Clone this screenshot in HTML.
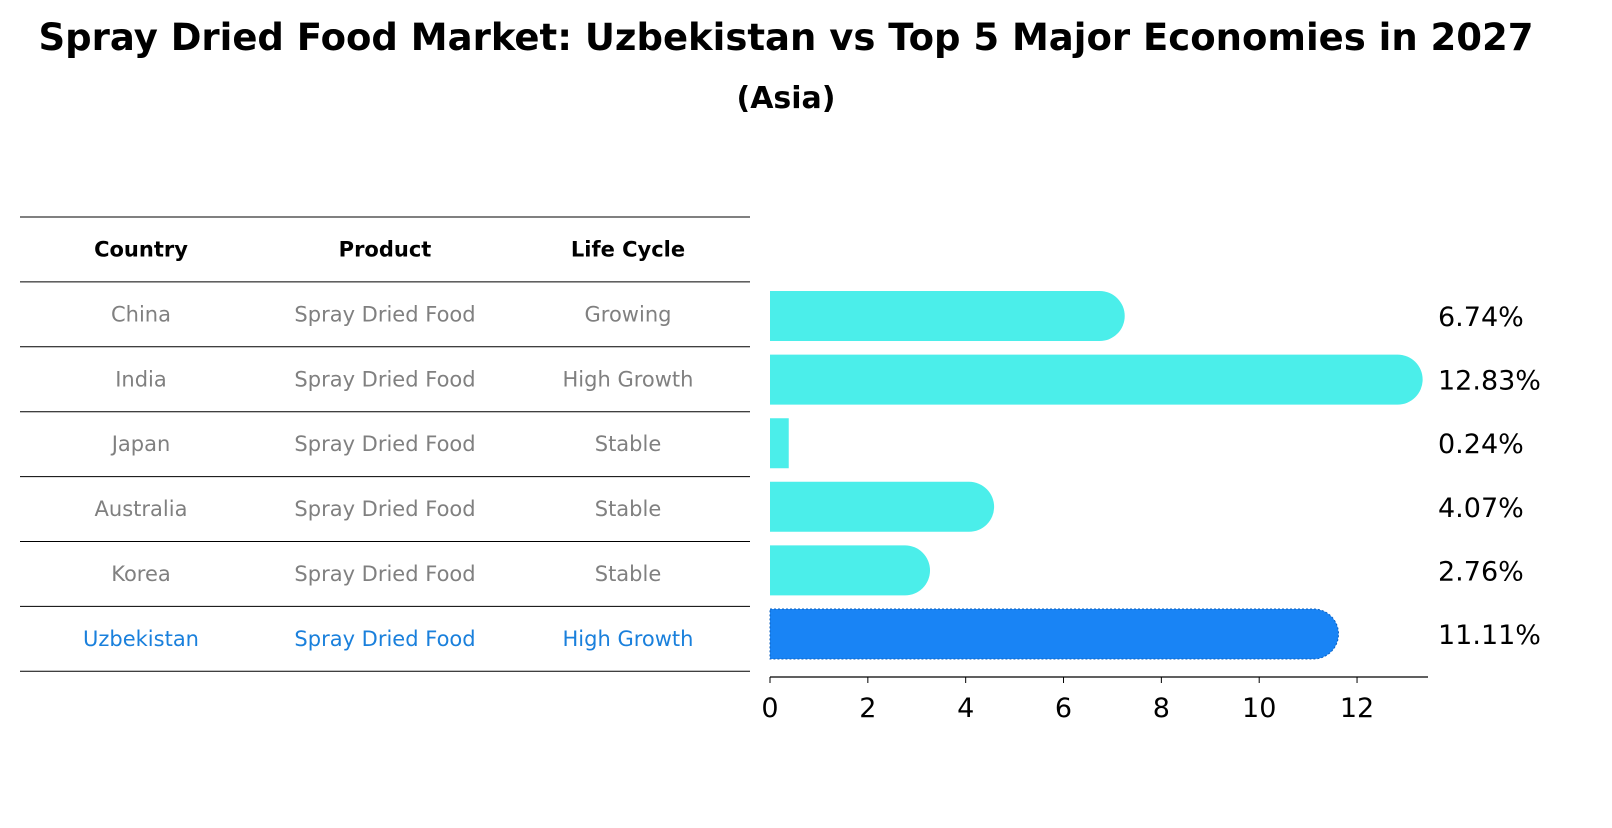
<!DOCTYPE html>
<html><head><meta charset="utf-8"><style>
body{margin:0;background:#fff;font-family:"Liberation Sans","DejaVu Sans",sans-serif}
</style></head><body>
<svg width="1612" height="823" viewBox="0 0 1612 823" xmlns="http://www.w3.org/2000/svg" font-family="DejaVu Sans, Liberation Sans, sans-serif">
<text x="786" y="50" text-anchor="middle" font-size="37" font-weight="bold">Spray Dried Food Market: Uzbekistan vs Top 5 Major Economies in 2027</text>
<text x="786" y="108" text-anchor="middle" font-size="30" font-weight="bold">(Asia)</text>
<g id="table"></g>
<g id="bars"></g>
</svg>
<script>
const countries=["China","India","Japan","Australia","Korea","Uzbekistan"];
const products=["Spray Dried Food","Spray Dried Food","Spray Dried Food","Spray Dried Food","Spray Dried Food","Spray Dried Food"];
const lifeCycles=["Growing","High Growth","Stable","Stable","Stable","High Growth"];
const values=[6.74,12.83,0.24,4.07,2.76,11.11];
const xTicks=[0,2,4,6,8,10,12];
const NS="http://www.w3.org/2000/svg";
function mk(t,a,p){const e=document.createElementNS(NS,t);for(const k in a)e.setAttribute(k,a[k]);p.appendChild(e);return e;}
const tbl=document.getElementById('table'),bars=document.getElementById('bars');
const rowTop=217,rowH=64.9,colX=[141,385,628];
function hl(y){const l=mk('line',{x1:20,x2:750,y1:y,y2:y,stroke:'#000','stroke-width':1},tbl);}
hl(rowTop);
["Country","Product","Life Cycle"].forEach((h,i)=>{const t=mk('text',{x:colX[i],y:rowTop+rowH/2+7,'text-anchor':'middle','font-size':21,'font-weight':'bold'},tbl);t.textContent=h;});
for(let r=0;r<=countries.length;r++)hl(rowTop+rowH*(r+1));
countries.forEach((c,r)=>{const y=rowTop+rowH*(r+1)+rowH/2+7;const col=r===countries.length-1?'#1a80dc':'#808080';
[c,products[r],lifeCycles[r]].forEach((s,i)=>{const t=mk('text',{x:colX[i],y:y,'text-anchor':'middle','font-size':21,fill:col},tbl);t.textContent=s;});});
const x0=770,pxu=48.92;
const X=v=>x0+v*pxu;
const bh=50,rowC=[316,379.6,443.2,506.8,570.4,634];
const axisY=677;
values.forEach((v,i)=>{const cy=rowC[i];const last=i===values.length-1;const fill=last?'#1984f5':'#4beeea';
const w=X(v)-x0;let d;
if(w>bh/2){d=`M${x0},${cy-bh/2} H${X(v)} A${bh/2},${bh/2} 0 0 1 ${X(v)},${cy+bh/2} H${x0} Z`;}else{d=`M${x0},${cy-bh/2} H${X(v)+7} V${cy+bh/2} H${x0} Z`;}
const p=mk('path',{d:d,fill:fill},bars);
if(last)mk('path',{d:d,fill:'none',stroke:'#0a5fc0','stroke-width':1,'stroke-dasharray':'2,2'},bars);
const t=mk('text',{x:1438,y:cy+10,'font-size':27},bars);t.textContent=v.toFixed(2)+'%';});
const ax=mk('line',{x1:x0,x2:1428,y1:axisY,y2:axisY,stroke:'#000','stroke-width':1.2},bars);
xTicks.forEach(v=>{const tk=mk('line',{x1:X(v),x2:X(v),y1:axisY,y2:axisY+6,stroke:'#000'},bars);
const t=mk('text',{x:X(v),y:axisY+40,'text-anchor':'middle','font-size':27},bars);t.textContent=v;});
</script>
</body></html>
